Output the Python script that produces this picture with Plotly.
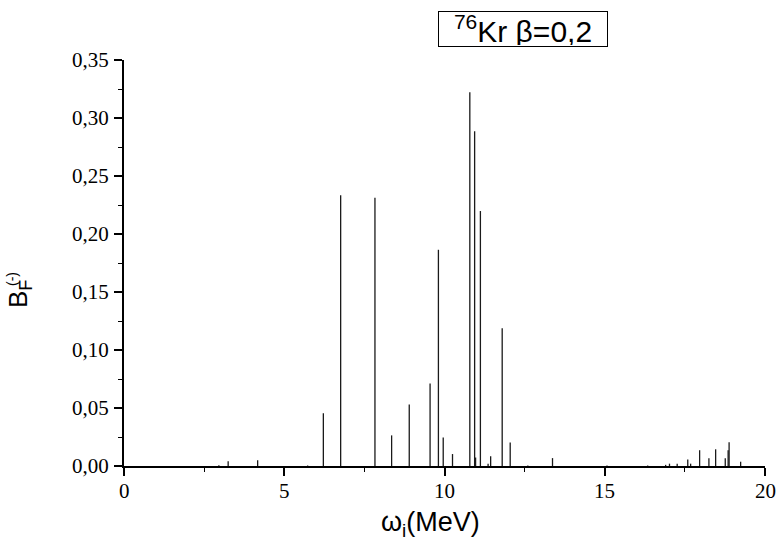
import plotly.graph_objects as go

# Excitation energies (MeV) and B_F(-) strengths
omega = [2.96, 3.25, 4.17, 5.73, 6.22, 6.76, 7.83, 8.35, 8.90, 9.55, 9.81, 9.96,
         10.25, 10.79, 10.94, 10.97, 11.12, 11.36, 11.44, 11.80, 12.05, 12.60,
         13.37, 15.07, 16.34, 16.90, 17.02, 17.26, 17.59, 17.68, 17.96, 18.25,
         18.46, 18.76, 18.85, 18.88, 19.24]
strength = [0.0007, 0.0040, 0.0050, 0.0005, 0.0455, 0.2334, 0.2313, 0.0264,
            0.0531, 0.0712, 0.1864, 0.0246, 0.0103, 0.3222, 0.2885, 0.0073,
            0.2198, 0.0020, 0.0083, 0.1188, 0.0203, 0.0005, 0.0068, 0.0005,
            0.0005, 0.0010, 0.0020, 0.0020, 0.0055, 0.0020, 0.0136, 0.0066,
            0.0144, 0.0066, 0.0136, 0.0205, 0.0037]

x_ticks = [0, 5, 10, 15, 20]
y_ticks = [0, 0.05, 0.10, 0.15, 0.20, 0.25, 0.30, 0.35]
x_ticklabels = ["0", "5", "10", "15", "20"]
y_ticklabels = ["0,00", "0,05", "0,10", "0,15", "0,20", "0,25", "0,30", "0,35"]

# build stick segments
xs, ys = [], []
for w, b in zip(omega, strength):
    xs += [w, w, None]
    ys += [0, b, None]

fig = go.Figure()
fig.add_trace(go.Scatter(x=xs, y=ys, mode="lines",
                         line=dict(color="#1a1a1a", width=1.3),
                         hoverinfo="skip", showlegend=False))

serif = "Times New Roman, serif"
axis_common = dict(showline=True, linecolor="black", linewidth=1.5,
                   ticks="outside", tickcolor="black", tickwidth=1.5,
                   showgrid=False, zeroline=False, showticklabels=False)

fig.update_xaxes(range=[0, 20], tickvals=x_ticks, ticklen=8,
                 minor=dict(dtick=2.5, ticks="outside", ticklen=4, tickcolor="black", tickwidth=1.2),
                 **axis_common)
fig.update_yaxes(range=[0, 0.35], tickvals=y_ticks, ticklen=8,
                 minor=dict(dtick=0.025, ticks="outside", ticklen=4, tickcolor="black", tickwidth=1.2),
                 **axis_common)

# tick labels as serif text placed on the axes' own scales
tick_font = dict(family=serif, size=21, color="black")
for v, lab in zip(x_ticks, x_ticklabels):
    fig.add_annotation(text=lab, xref="x", yref="paper", x=v, y=0,
                       xanchor="center", yanchor="top", yshift=-11,
                       showarrow=False, font=tick_font)
for v, lab in zip(y_ticks, y_ticklabels):
    fig.add_annotation(text=lab, xref="paper", yref="y", x=0, y=v,
                       xanchor="right", yanchor="middle", xshift=-13,
                       showarrow=False, font=tick_font)

W, H = 779, 551
L, R, T, B = 124, 14, 60, 85
pw, ph = W - L - R, H - T - B

def px(x):
    return (x - L) / pw

def py(y):
    return (H - B - y) / ph

sans = "Arial, Liberation Sans, sans-serif"
fig.add_annotation(text="<sup>76</sup>Kr β=0,2", xref="paper", yref="paper",
                   x=px(523), y=py(29), xanchor="center", yanchor="middle",
                   showarrow=False, width=166, height=32, align="center",
                   font=dict(family=sans, size=30, color="black"),
                   bordercolor="black", borderwidth=1, borderpad=1, bgcolor="white")
fig.add_annotation(text="B<sub>F</sub>", xref="paper", yref="paper",
                   x=px(19), y=py(294), xanchor="center", yanchor="middle",
                   textangle=-90, showarrow=False,
                   font=dict(family=sans, size=26, color="black"))
fig.add_annotation(text="(-)", xref="paper", yref="paper",
                   x=px(12), y=py(279), xanchor="center", yanchor="middle",
                   textangle=-90, showarrow=False,
                   font=dict(family=sans, size=14, color="black"))
fig.add_annotation(text="ω<sub>i</sub>(MeV)", xref="paper", yref="paper",
                   x=px(430), y=py(524), xanchor="center", yanchor="middle",
                   showarrow=False,
                   font=dict(family=sans, size=27, color="black"))

fig.update_layout(width=W, height=H,
                  font=dict(family=serif, color="black"),
                  margin=dict(l=L, r=R, t=T, b=B),
                  plot_bgcolor="rgba(0,0,0,0)", paper_bgcolor="white")

fig.write_html("out.html")
